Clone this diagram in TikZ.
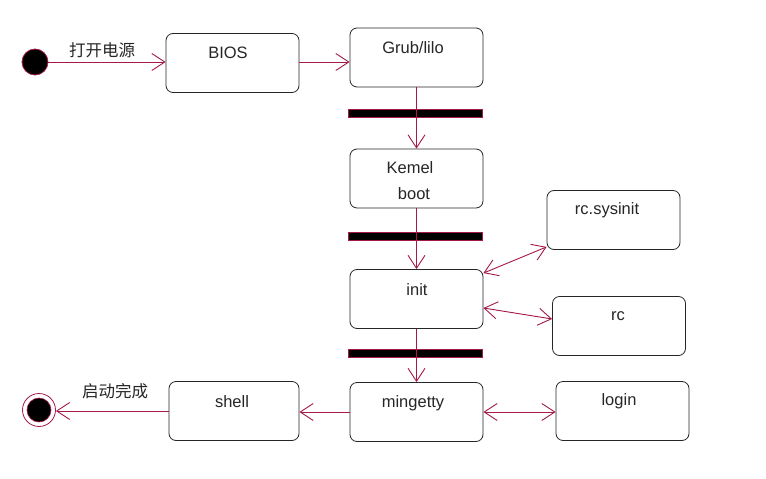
\documentclass[tikz,border=0pt]{standalone}
\usepackage{fontspec}
\setmainfont{Liberation Sans}
\newfontfamily\cjk{Noto Sans CJK SC}
\usetikzlibrary{arrows.meta}
\definecolor{wirec}{RGB}{165,25,75}
\begin{document}
\begin{tikzpicture}[x=1pt,y=-1pt,
  box/.style={draw=black!85, line width=0.8pt, rounded corners=7pt, minimum width=133pt, minimum height=59pt, inner sep=0pt},
  txt/.style={font=\fontsize{16.5}{19}\selectfont, inner sep=0pt, text=black!85},
  cjktxt/.style={font=\cjk\fontsize{16.5}{19}\selectfont, inner sep=0pt, text=black!85},
  wire/.style={draw=wirec, line width=0.9pt},
  arr/.style={-{Straight Barb[length=13pt,width=17pt,line width=0.9pt]}},
  darr/.style={{Straight Barb[length=13pt,width=17pt,line width=0.9pt]}-{Straight Barb[length=13pt,width=17pt,line width=0.9pt]}},
  syncbar/.style={fill=black, draw=wirec, line width=0.8pt, minimum width=134pt, minimum height=8pt, inner sep=0pt}
]
\fill[white] (0,0) rectangle (766,479);
\useasboundingbox (0,0) rectangle (766,479);

% boxes
\node[box] (bios) at (232.5,63) {};
\node[box] (grub) at (416.5,57.5) {};
\node[box] (kern) at (416.5,178.5) {};
\node[box] (init) at (416.5,299) {};
\node[box] (sys) at (613.5,220) {};
\node[box] (rc) at (619,326) {};
\node[box] (ming) at (416.5,412) {};
\node[box] (login) at (622.5,411) {};
\node[box, minimum width=130pt] (shell) at (234,411) {};

% box texts
\node[txt] (biost) at (228,53) {BIOS};
\node[txt] (grubt) at (413,48) {Grub/lilo};
\node[txt] (kernt1) at (410,168) {Kemel};
\node[txt] (kernt2) at (414,194) {boot};
\node[txt] (initt) at (417,290) {init};
\node[txt] (syst) at (607,210) {rc.sysinit};
\node[txt] (rct) at (618,316) {rc};
\node[txt] (mingt) at (413,403) {mingetty};
\node[txt] (logint) at (619,401) {login};
\node[txt] (shellt) at (232,402) {shell};

% sync bars
\node[syncbar] (bar1) at (415,113.5) {};
\node[syncbar] (bar2) at (415,236.5) {};
\node[syncbar] (bar3) at (415,353.5) {};

% start and end
\node[circle, fill=black, draw=wirec, line width=0.8pt, minimum size=26pt, inner sep=0pt] (start) at (35,62) {};
\node[circle, draw=wirec, line width=0.8pt, fill=white, minimum size=33pt, inner sep=0pt] (endo) at (39,410) {};
\node[circle, fill=black, draw=wirec, line width=0.6pt, minimum size=24pt, inner sep=0pt] (endi) at (39,410) {};

% labels
\node[cjktxt] (lblon) at (102,50) {打开电源};
\node[cjktxt] (lbldone) at (115,391) {启动完成};

% connectors
\draw[wire,arr] (start.east) -- (start.east -| bios.west);
\draw[wire,arr] ([yshift=1pt]bios.east) -- ([yshift=1pt]bios.east -| grub.west);
\draw[wire,arr] (grub.south) -- (kern.north);
\draw[wire,arr] (kern.south) -- (init.north);
\draw[wire,arr] (init.south) -- (ming.north);
\draw[wire,darr] ([yshift=-4pt]init.north east) -- ([yshift=3pt]sys.south west);
\draw[wire,darr] ([yshift=-9pt]init.east) -- ([yshift=7pt]rc.west);
\draw[wire,darr] (ming.east) -- (ming.east -| login.west);
\draw[wire,arr] (ming.west) -- (ming.west -| shell.east);
\draw[wire,arr] (shell.west) -- (shell.west -| endo.east);
\end{tikzpicture}
\end{document}
